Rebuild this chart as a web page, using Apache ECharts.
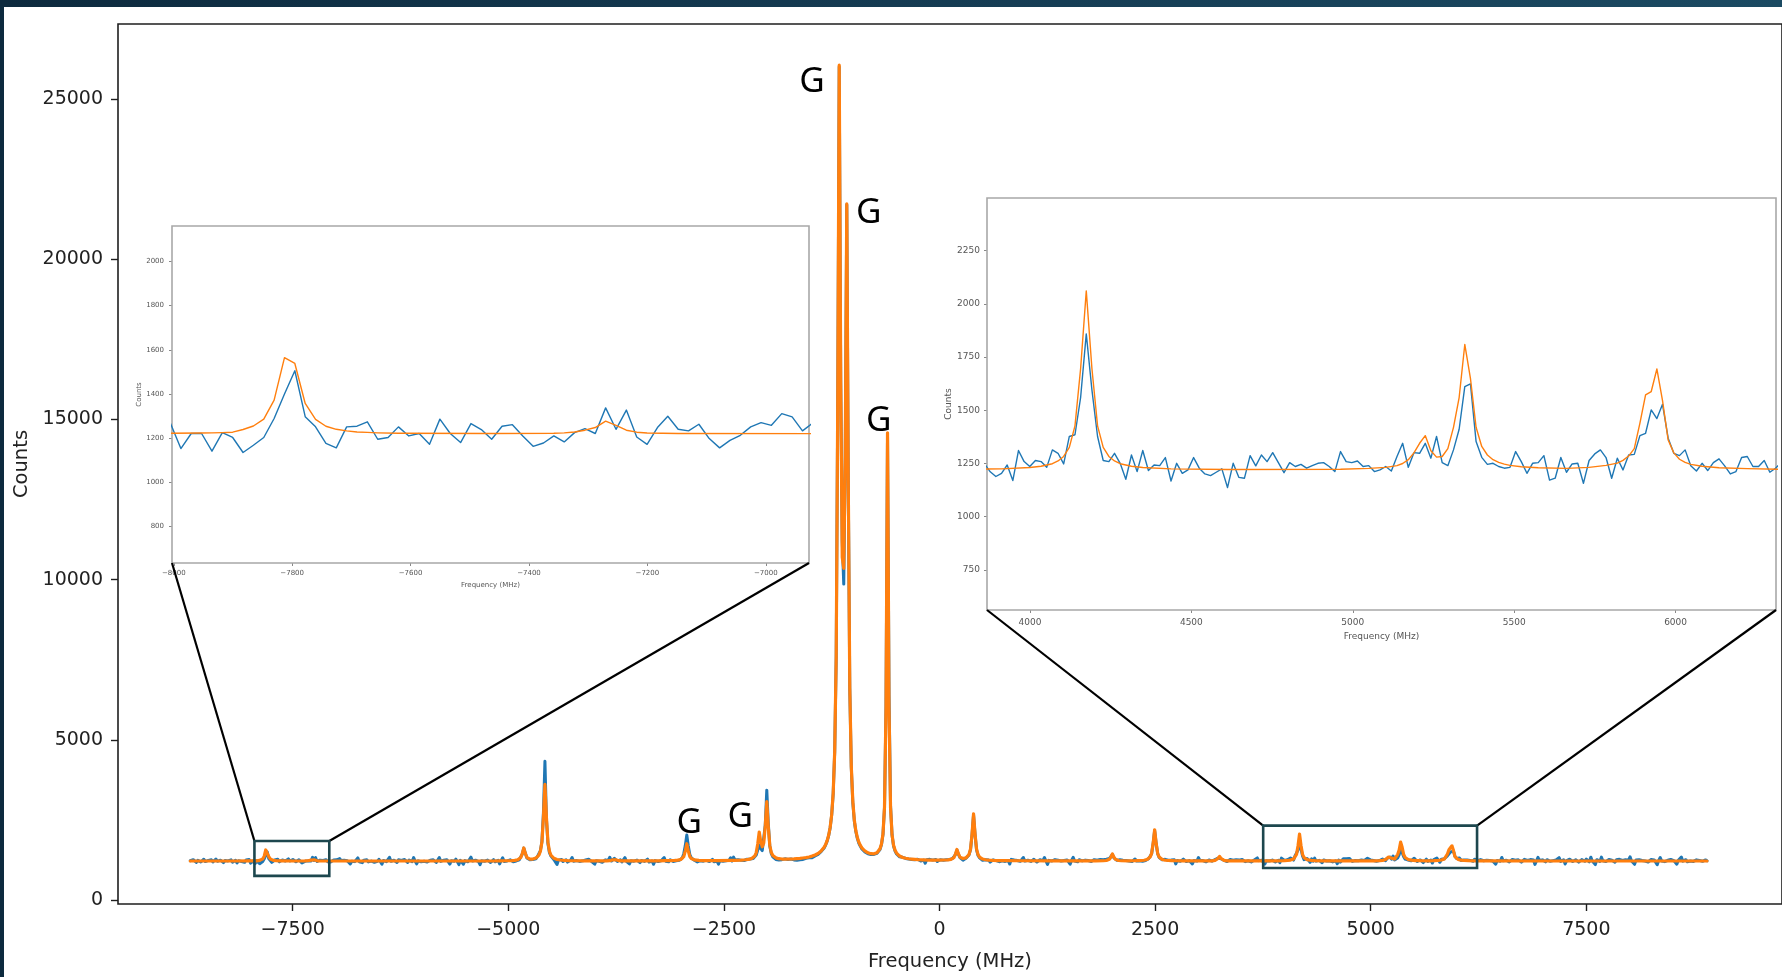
<!DOCTYPE html>
<html>
<head>
<meta charset="utf-8">
<script src="https://cdn.jsdelivr.net/npm/echarts@6/dist/echarts.min.js"></script>
<style>
  html, body { margin: 0; padding: 0; width: 1782px; height: 977px; overflow: hidden;
    background: linear-gradient(90deg, #0d2a3e 0%, #153b52 50%, #1b4a62 100%); }
  #sheet { position: absolute; left: 4px; top: 7px; right: 0; bottom: 0; background: #fff; }
  #chart { position: absolute; left: 0; top: 0; width: 1782px; height: 977px; }
</style>
</head>
<body>
<div id="sheet"></div>
<div id="chart"></div>
<script>
// Frequency grid of the measured spectrum (MHz)
const FREQ_START = -8688;
const FREQ_STEP = 17.5;

// Measured counts, one value per grid sample (20 samples = 350 MHz per row)
const measuredCounts = [
  1228,1195,1262,1208,1174,1241,1253,1189,1217,1276,1203,1166,1238,1221,1259,1192,1230,1284,1211,1187,
  1246,1213,1172,1235,1290,1224,1198,1257,1183,1219,1241,1160,1229,1268,1205,1237,1179,1252,1214,1266,
  1153,1221,1221,1141,1225,1203,1135,1168,1203,1289,1400,1505,1297,1251,1176,1156,1251,1254,1274,1195,
  1203,1251,1210,1221,1172,1286,1221,1180,1266,1239,1195,1254,1261,1210,1163,1178,1210,1183,1225,1243,
  1221,1337,1240,1327,1205,1172,1248,1299,1240,1233,1263,1198,1156,1190,1213,1251,1270,1258,1311,1296,
  1233,1269,1243,1188,1227,1250,1128,1215,1262,1201,1239,1318,1196,1224,1170,1247,1212,1258,1193,1231,
  1218,1265,1182,1240,1209,1273,1227,1122,1236,1254,1199,1222,1335,1213,1185,1244,1228,1176,1259,1206,
  1237,1194,1268,1221,1178,1249,1232,1203,1326,1215,1131,1226,1255,1197,1240,1212,1271,1189,1230,1247,
  1201,1259,1224,1175,1236,1330,1209,1183,1246,1220,1262,1192,1125,1231,1253,1214,1279,1226,1108,1242,
  1210,1120,1233,1257,1198,1225,1340,1219,1174,1245,1236,1204,1108,1229,1266,1213,1190,1248,1227,1173,
  1235,1261,1196,1218,1244,1128,1229,1322,1207,1240,1223,1186,1256,1231,1199,1247,1222,1268,1260,1318,
  1440,1622,1470,1318,1305,1262,1290,1265,1302,1290,1355,1396,1545,1820,2720,4330,2520,1760,1480,1372,
  1310,1262,1238,1112,1249,1226,1271,1204,1232,1258,1187,1220,1246,1330,1213,1195,1234,1262,1208,1241,
  1226,1188,1253,1217,1274,1235,1199,1243,1121,1230,1265,1211,1247,1183,1229,1256,1201,1238,1338,1219,
  1262,1301,1248,1205,1237,1259,1192,1223,1325,1210,1244,1130,1228,1263,1216,1197,1250,1233,1172,1239,
  1254,1208,1226,1281,1190,1243,1219,1118,1232,1267,1205,1248,1226,1189,1327,1214,1238,1196,1259,1231,
  1207,1262,1228,1255,1241,1279,1312,1450,1700,2030,1690,1420,1318,1262,1243,1221,1192,1248,1230,1265,
  1216,1184,1239,1257,1203,1228,1271,1195,1245,1221,1125,1236,1262,1209,1250,1226,1188,1241,1320,1219,
  1342,1250,1228,1262,1219,1245,1268,1236,1251,1275,1243,1286,1262,1300,1331,1405,1560,1720,1610,1545,
  1590,2350,3430,2400,1680,1450,1350,1318,1270,1296,1248,1281,1262,1239,1288,1251,1270,1229,1284,1262,
  1255,1292,1241,1276,1260,1298,1269,1288,1305,1281,1319,1334,1322,1367,1381,1402,1429,1468,1515,1560,
  1625,1718,1840,2010,2260,2650,3320,4620,7580,15400,26000,16100,11200,9860,13900,21700,12950,6580,4130,3040,
  2470,2140,1925,1772,1680,1598,1540,1502,1470,1445,1430,1422,1418,1425,1436,1460,1505,1580,1730,2050,
  2880,6050,14550,6400,2950,2030,1690,1530,1440,1398,1352,1320,1335,1289,1301,1262,1281,1247,1270,1232,
  1262,1229,1275,1241,1218,1266,1250,1150,1259,1237,1272,1214,1248,1226,1269,1205,1243,1258,1221,1246,
  1229,1262,1238,1270,1251,1296,1320,1420,1560,1430,1325,1280,1246,1298,1305,1340,1410,1570,2030,2660,
  2050,1570,1392,1318,1270,1241,1205,1262,1228,1250,1186,1239,1257,1214,1231,1268,1199,1242,1225,1260,
  1208,1247,1233,1125,1271,1224,1252,1196,1238,1265,1210,1229,1331,1218,1191,1244,1259,1207,1235,1273,
  1220,1188,1246,1261,1204,1232,1329,1215,1116,1240,1256,1223,1198,1264,1230,1247,1185,1219,1268,1236,
  1202,1254,1228,1122,1243,1334,1217,1233,1196,1259,1271,1224,1190,1248,1212,1235,1280,1207,1239,1263,
  1214,1246,1199,1268,1231,1257,1219,1275,1240,1296,1350,1425,1318,1290,1241,1226,1262,1210,1247,1191,
  1236,1270,1222,1253,1204,1241,1283,1218,1260,1229,1247,1212,1266,1238,1255,1291,1330,1445,1760,2170,
  1775,1450,1330,1282,1259,1230,1272,1215,1244,1198,1251,1227,1263,1130,1236,1252,1210,1245,1278,1221,
  1203,1249,1232,1264,1127,1237,1255,1219,1329,1241,1208,1233,1260,1194,1228,1251,1270,1216,1245,1262,
  1275,1310,1352,1290,1262,1238,1251,1204,1230,1266,1217,1243,1195,1258,1226,1249,1211,1270,1236,1201,
  1247,1228,1263,1193,1239,1254,1215,1318,1232,1209,1244,1262,1124,1230,1252,1221,1238,1248,1211,1189,
  1204,1243,1170,1311,1259,1236,1264,1259,1232,1314,1298,1248,1377,1385,1560,1859,1596,1377,1264,1259,
  1298,1251,1176,1290,1212,1311,1217,1243,1240,1278,1168,1251,1204,1220,1278,1228,1201,1193,1209,1225,
  1137,1251,1185,1181,1287,1239,1290,1259,1301,1254,1207,1254,1236,1246,1228,1240,1251,1254,1236,1212,
  1306,1259,1254,1262,1236,1240,1212,1220,1236,1215,1283,1345,1232,1301,1298,1345,1275,1377,1254,1240,
  1314,1411,1611,1624,1353,1279,1246,1251,1236,1228,1232,1306,1259,1204,1251,1254,1287,1172,1181,1278,
  1209,1248,1251,1157,1264,1295,1314,1278,1181,1275,1220,1290,1293,1381,1392,1502,1461,1528,1369,1298,
  1287,1314,1239,1215,1251,1217,1254,1272,1239,1201,1212,1278,1283,1236,1236,1264,1209,1228,1255,1241,
  1196,1233,1268,1221,1250,1119,1239,1262,1214,1332,1228,1203,1246,1258,1192,1235,1271,1219,1244,1208,
  1257,1229,1186,1248,1273,1216,1239,1201,1265,1232,1250,1115,1224,1336,1241,1210,1256,1227,1195,1262,
  1238,1214,1270,1233,1197,1251,1226,1325,1209,1244,1261,1127,1235,1218,1276,1247,1204,1229,1258,1221,
  1185,1243,1266,1230,1212,1279,1236,1195,1340,1221,1248,1110,1262,1239,1208,1341,1227,1250,1202,1236,
  1269,1211,1245,1228,1183,1257,1234,1272,1216,1240,1199,1263,1225,1248,1352,1219,1237,1118,1253,1229,
  1262,1204,1238,1275,1221,1247,1190,1233,1268,1212,1256,1229,1104,1241,1329,1218,1236,1201,1259,1243,
  1224,1270,1209,1235,1252,1121,1246,1229,1345,1214,1238,1261,1196,1245,1221,1277,1207,1233,1256,1218,
  1240,1265,1212,1236,1254,1229
];

// Fitted curve: [sample index on the grid, counts]
const fitPoints = [
  [0,1221],[30,1221],[38,1222],[42,1223],[43,1224],[44,1225],[45,1227],[46,1239],[47,1255],[48,1286],
  [49,1372],[50,1564],[51,1538],[52,1357],[53,1285],[54,1254],[55,1240],[56,1233],[57,1228],[58,1226],
  [59,1224],[61,1222],[70,1221],[76,1222],[77,1224],[78,1228],[79,1236],[80,1248],[81,1277],[82,1258],
  [83,1236],[84,1227],[85,1223],[88,1221],[120,1220],[200,1221],[205,1224],[210,1228],[213,1233],[215,1240],
  [216,1247],[217,1259],[218,1280],[219,1328],[220,1455],[221,1626],[222,1459],[223,1337],[224,1294],[225,1279],
  [226,1277],[227,1282],[228,1292],[229,1312],[230,1345],[231,1405],[232,1527],[233,1811],[234,2577],[235,3610],
  [236,2574],[237,1808],[238,1523],[239,1400],[240,1339],[241,1304],[242,1283],[243,1268],[244,1258],[245,1251],
  [246,1246],[248,1240],[250,1235],[255,1229],[260,1226],[270,1223],[276,1224],[278,1230],[279,1240],[280,1257],
  [281,1285],[282,1257],[283,1240],[284,1230],[286,1224],[295,1222],[310,1226],[315,1230],[318,1233],[321,1238],
  [323,1247],[324,1255],[325,1268],[326,1296],[327,1360],[328,1531],[329,1760],[330,1531],[331,1360],[332,1296],
  [333,1268],[334,1255],[335,1247],[337,1238],[340,1233],[345,1230],[350,1232],[360,1240],[365,1248],[368,1259],
  [370,1272],[371,1282],[372,1300],[373,1325],[374,1375],[375,1482],[376,1753],[377,2125],[378,1826],[379,1663],
  [380,1783],[381,2315],[382,3072],[383,2284],[384,1705],[385,1487],[386,1393],[387,1345],[388,1319],[389,1303],
  [390,1293],[392,1282],[395,1282],[400,1287],[402,1294],[404,1302],[406,1314],[408,1328],[409,1337],[410,1347],
  [411,1359],[412,1373],[413,1389],[414,1407],[415,1430],[416,1458],[417,1492],[418,1532],[419,1584],[420,1650],
  [421,1739],[422,1857],[423,2025],[424,2273],[425,2667],[426,3341],[427,4642],[428,7608],[429,15420],[430,26050],
  [431,16205],[432,10700],[433,10350],[434,13969],[435,21722],[436,13007],[437,6617],[438,4171],[439,3088],[440,2501],
  [441,2167],[442,1954],[443,1809],[444,1708],[445,1632],[446,1576],[447,1533],[448,1501],[449,1477],[450,1460],
  [451,1448],[452,1444],[453,1446],[454,1457],[455,1481],[456,1524],[457,1602],[458,1750],[459,2069],[460,2906],
  [461,6018],[462,14580],[463,6009],[464,2888],[465,2042],[466,1714],[467,1555],[468,1467],[469,1412],[470,1375],
  [471,1350],[472,1331],[473,1316],[474,1306],[475,1297],[476,1290],[477,1283],[478,1279],[480,1270],[482,1263],
  [485,1257],[490,1250],[495,1248],[500,1252],[502,1257],[503,1262],[504,1272],[505,1289],[506,1329],[507,1436],
  [508,1582],[509,1442],[510,1339],[511,1306],[512,1297],[513,1301],[514,1318],[515,1352],[516,1424],[517,1596],
  [518,2060],[519,2690],[520,2059],[521,1592],[522,1417],[523,1341],[524,1303],[525,1282],[526,1268],[527,1259],
  [528,1253],[529,1249],[530,1246],[532,1240],[535,1235],[540,1232],[550,1228],[570,1224],[600,1223],[605,1228],
  [606,1231],[607,1236],[608,1247],[609,1273],[610,1342],[611,1440],[612,1342],[613,1273],[614,1247],[615,1236],
  [616,1231],[617,1228],[622,1224],[625,1228],[628,1232],[630,1236],[631,1240],[632,1245],[633,1254],[634,1268],
  [635,1294],[636,1344],[637,1460],[638,1772],[639,2195],[640,1772],[641,1460],[642,1344],[643,1294],[644,1268],
  [645,1254],[646,1245],[647,1240],[648,1236],[650,1232],[653,1228],[658,1225],[670,1222],[677,1227],[678,1231],
  [679,1238],[680,1254],[681,1299],[682,1365],[683,1299],[684,1254],[685,1238],[686,1231],[687,1227],[692,1222],
  [710,1222],[720,1225],[725,1231],[727,1237],[729,1249],[730,1262],[731,1283],[732,1326],[733,1427],[734,1696],
  [735,2061],[736,1696],[737,1427],[738,1326],[739,1283],[740,1262],[741,1249],[743,1237],[745,1231],[750,1225],
  [760,1222],[780,1223],[785,1227],[788,1232],[790,1240],[791,1250],[792,1268],[793,1300],[794,1345],[795,1381],
  [796,1310],[797,1280],[798,1283],[799,1320],[800,1420],[801,1560],[802,1809],[803,1650],[804,1420],[805,1330],
  [806,1290],[807,1268],[808,1255],[809,1247],[810,1241],[812,1235],[815,1230],[820,1227],[824,1232],[827,1241],
  [829,1252],[830,1265],[831,1285],[832,1320],[833,1440],[834,1572],[835,1588],[836,1694],[837,1545],[838,1360],
  [839,1300],[840,1270],[841,1255],[842,1246],[844,1237],[847,1230],[852,1226],[860,1222],[900,1221],[1005,1221]
];

// Axis ranges and tick values
const mainFreqRange = [-9526, 9769];
const mainCountRange = [-121, 27336];
const mainFreqTicks = [-7500, -5000, -2500, 0, 2500, 5000, 7500];
const mainCountTicks = [0, 5000, 10000, 15000, 20000, 25000];

const leftInsetFreqRange = [-8003, -6927];
const leftInsetCountRange = [635, 2160];
const leftInsetFreqTicks = [-8000, -7800, -7600, -7400, -7200, -7000];
const leftInsetCountTicks = [800, 1000, 1200, 1400, 1600, 1800, 2000];

const rightInsetFreqRange = [3867, 6311];
const rightInsetCountRange = [562, 2497];
const rightInsetFreqTicks = [4000, 4500, 5000, 5500, 6000];
const rightInsetCountTicks = [750, 1000, 1250, 1500, 1750, 2000, 2250];

// Zoomed windows marked on the full spectrum (MHz, counts)
const leftWindow = { freq: [-7944, -7076], counts: [756, 1844] };
const rightWindow = { freq: [3753, 6233], counts: [1004, 2323] };

// "G" annotations placed in data units
const peakMarks = [
  { freq: -1480, counts: 25520, text: 'G' },
  { freq: -822,  counts: 21440, text: 'G' },
  { freq: -706,  counts: 14950, text: 'G' },
  { freq: -2902, counts: 2420,  text: 'G' },
  { freq: -2312, counts: 2580,  text: 'G' }
];

const freqOf = i => FREQ_START + FREQ_STEP * i;
const measured = measuredCounts.map((c, i) => [freqOf(i), c]);
const fitted = fitPoints.map(([i, c]) => [freqOf(i), c]);
const signed = v => String(v).replace('-', '\u2212');

const BLUE = '#1f77b4';
const ORANGE = '#ff7f0e';
const FONT = 'DejaVu Sans';

function valueAxis(gridIndex, range, ticks, opts) {
  return {
    type: 'value', gridIndex, min: range[0], max: range[1],
    axisLine: { show: false, onZero: false },
    splitLine: { show: false },
    axisTick: { show: true, customValues: ticks, length: opts.tickLen,
      lineStyle: { color: opts.tickColor, width: opts.tickWidth } },
    axisLabel: { show: true, customValues: ticks, formatter: signed, margin: opts.margin,
      padding: opts.labelPadding || 0,
      fontFamily: FONT, fontSize: opts.fontSize, color: opts.labelColor },
    name: opts.name, nameLocation: 'middle', nameGap: opts.nameGap,
    nameTextStyle: { fontFamily: FONT, fontSize: opts.nameSize, color: opts.labelColor }
  };
}

function lineSeries(data, axisIdx, color, width, z) {
  return {
    type: 'line', data, xAxisIndex: axisIdx, yAxisIndex: axisIdx,
    symbol: 'none', showSymbol: false, silent: true, animation: false, clip: true, z,
    lineStyle: { color, width, join: 'round', cap: 'round' }
  };
}

const chart = echarts.init(document.getElementById('chart'), null, { renderer: 'canvas' });

const option = {
  animation: false,
  backgroundColor: 'transparent',
  grid: [
    { left: 118, top: 24, width: 1670, height: 883, show: true,
      borderColor: '#1e1e1e', borderWidth: 1.6, backgroundColor: 'transparent' },
    { left: 172, top: 226, width: 637, height: 337, show: true,
      borderColor: '#a8a8a8', borderWidth: 1.6, backgroundColor: '#ffffff', z: 3 },
    { left: 987, top: 198, width: 789, height: 412, show: true,
      borderColor: '#a8a8a8', borderWidth: 1.6, backgroundColor: '#ffffff', z: 3 }
  ],
  xAxis: [
    valueAxis(0, mainFreqRange, mainFreqTicks, { tickLen: 7, tickColor: '#1e1e1e', tickWidth: 1.4,
      margin: 17, fontSize: 19, labelColor: '#222', name: 'Frequency (MHz)', nameGap: 48, nameSize: 19.5 }),
    valueAxis(1, leftInsetFreqRange, leftInsetFreqTicks, { tickLen: 3, tickColor: '#888', tickWidth: 1,
      margin: 7, fontSize: 7, labelColor: '#555', name: 'Frequency (MHz)', nameGap: 18.5, nameSize: 7 }),
    valueAxis(2, rightInsetFreqRange, rightInsetFreqTicks, { tickLen: 3, tickColor: '#888', tickWidth: 1,
      margin: 8.5, fontSize: 9, labelColor: '#555', name: 'Frequency (MHz)', nameGap: 22.5, nameSize: 9 })
  ],
  yAxis: [
    valueAxis(0, mainCountRange, mainCountTicks, { tickLen: 7, tickColor: '#1e1e1e', tickWidth: 1.4,
      margin: 15, fontSize: 19, labelColor: '#222', labelPadding: [0, 0, 4, 0],
      name: 'Counts', nameGap: 78, nameSize: 19.5 }),
    valueAxis(1, leftInsetCountRange, leftInsetCountTicks, { tickLen: 3, tickColor: '#888', tickWidth: 1,
      margin: 8, fontSize: 7, labelColor: '#555', name: 'Counts', nameGap: 23.7, nameSize: 7 }),
    valueAxis(2, rightInsetCountRange, rightInsetCountTicks, { tickLen: 3, tickColor: '#888', tickWidth: 1,
      margin: 7, fontSize: 9, labelColor: '#555', name: 'Counts', nameGap: 33, nameSize: 9 })
  ],
  series: [
    lineSeries(measured, 0, BLUE, 3, 2),
    lineSeries(fitted, 0, ORANGE, 3.2, 3),
    lineSeries(measured, 1, BLUE, 1.4, 6),
    lineSeries(fitted, 1, ORANGE, 1.4, 7),
    lineSeries(measured, 2, BLUE, 1.4, 6),
    lineSeries(fitted, 2, ORANGE, 1.4, 7)
  ]
};

chart.setOption(option);

// Window outlines, connector lines and peak letters, placed through the axes
const px = (k, f, c) => chart.convertToPixel({ xAxisIndex: k, yAxisIndex: k }, [f, c]);
const graphics = [];

function addWindow(w, insetIdx, insetFreq, insetCounts) {
  const tl = px(0, w.freq[0], w.counts[1]);
  const br = px(0, w.freq[1], w.counts[0]);
  const insetBL = px(insetIdx, insetFreq[0], insetCounts[0]);
  const insetBR = px(insetIdx, insetFreq[1], insetCounts[0]);
  graphics.push({ type: 'rect', silent: true, z: 20,
    shape: { x: tl[0], y: tl[1], width: br[0] - tl[0], height: br[1] - tl[1] },
    style: { fill: 'rgba(0,0,0,0)', stroke: '#1d474e', lineWidth: 2.6 } });
  graphics.push({ type: 'line', silent: true, z: 19,
    shape: { x1: tl[0], y1: tl[1], x2: insetBL[0], y2: insetBL[1] },
    style: { stroke: '#000', lineWidth: 2.2 } });
  graphics.push({ type: 'line', silent: true, z: 19,
    shape: { x1: br[0], y1: tl[1], x2: insetBR[0], y2: insetBR[1] },
    style: { stroke: '#000', lineWidth: 2.2 } });
}
addWindow(leftWindow, 1, leftInsetFreqRange, leftInsetCountRange);
addWindow(rightWindow, 2, rightInsetFreqRange, rightInsetCountRange);

peakMarks.forEach(m => {
  const p = px(0, m.freq, m.counts);
  graphics.push({ type: 'text', silent: true, z: 21, x: p[0], y: p[1],
    style: { text: m.text, fontFamily: 'Noto Sans', fontSize: 35, fill: '#000',
      align: 'center', verticalAlign: 'middle', textAlign: 'center', textVerticalAlign: 'middle' } });
});

chart.setOption({ graphic: graphics });
</script>
</body>
</html>
